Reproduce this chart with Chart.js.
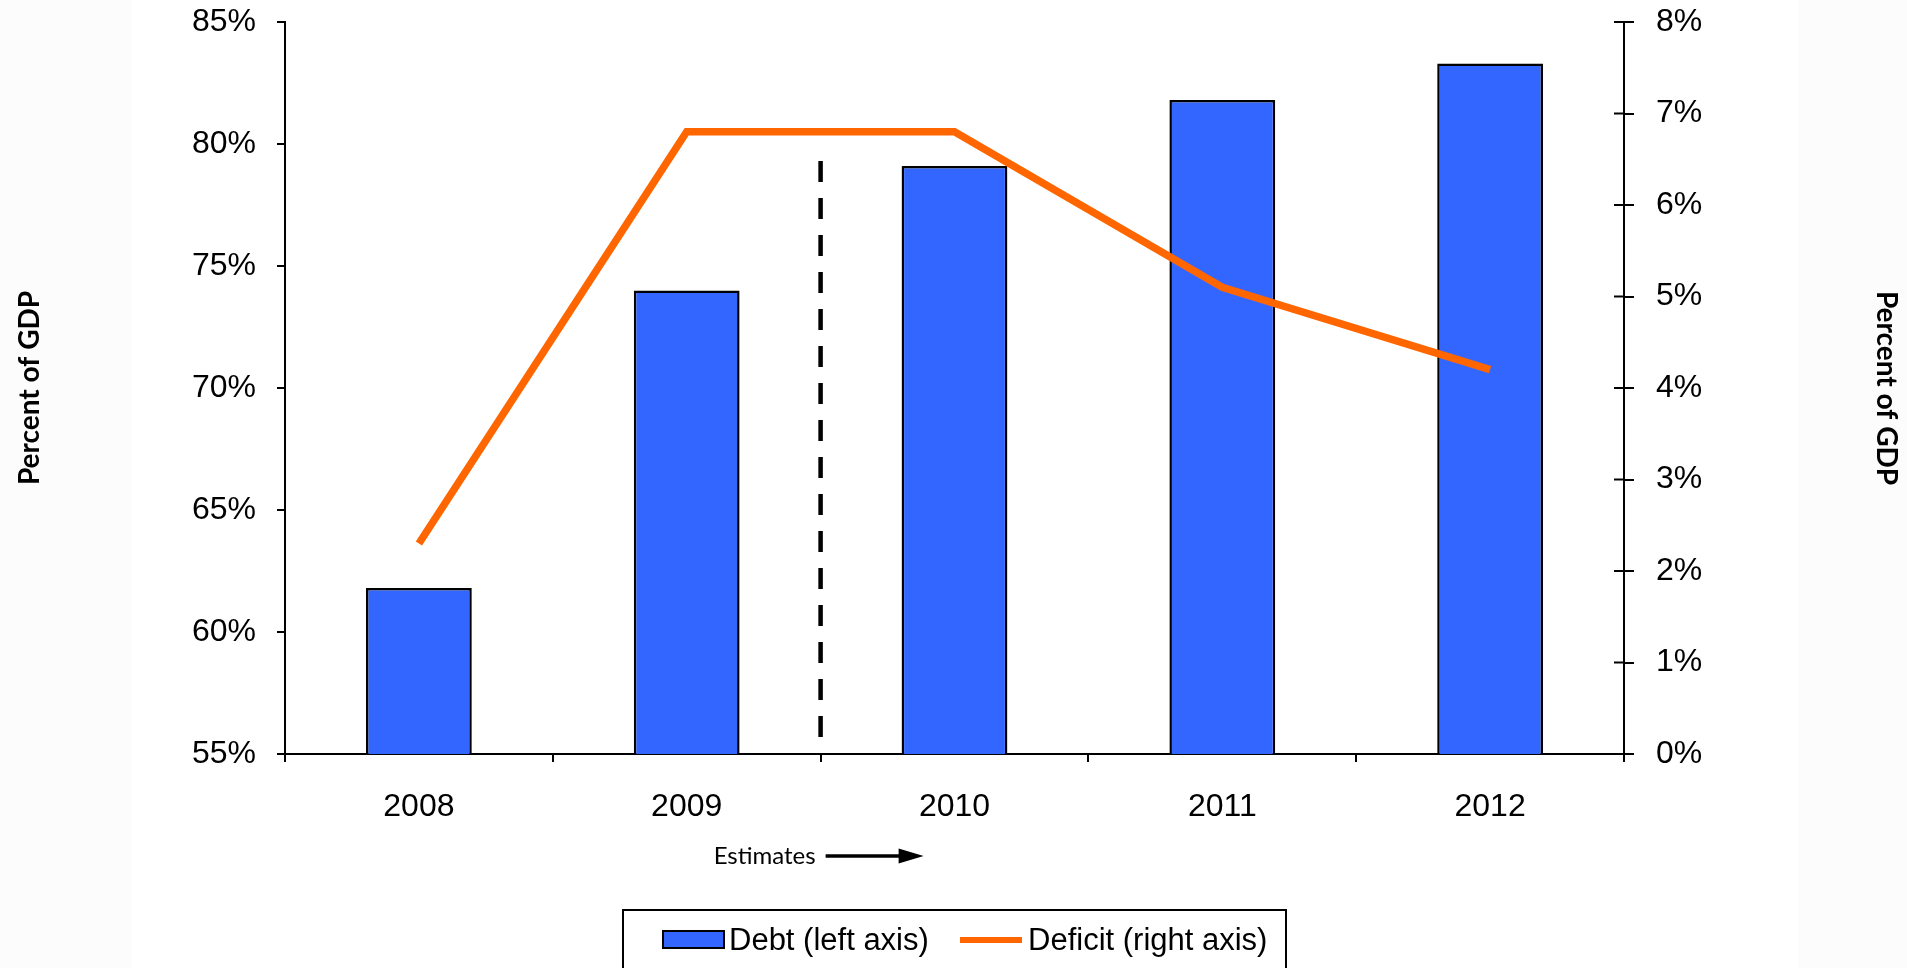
<!DOCTYPE html>
<html>
<head>
<meta charset="utf-8">
<title>Debt and Deficit, Percent of GDP</title>
<script src="https://cdn.jsdelivr.net/npm/chart.js@4.4.1/dist/chart.umd.min.js"></script>
<style>
  html, body { margin: 0; padding: 0; background: #fff; }
  #wrap { position: relative; width: 1907px; height: 968px; }
</style>
</head>
<body>
<div id="wrap"><canvas id="debtchart"></canvas></div>
<script>
const years = ['2008', '2009', '2010', '2011', '2012'];
const debt = [61.8, 74.0, 79.1, 81.8, 83.3];   // % of GDP, left axis
const deficit = [2.3, 6.8, 6.8, 5.1, 4.2];     // % of GDP, right axis
const debtTicks = [55, 60, 65, 70, 75, 80, 85];
const deficitTicks = [0, 1, 2, 3, 4, 5, 6, 7, 8];
const firstEstimate = '2010';
const dividerTop = 79.3;   // where the dashed divider stops, on the debt axis

const BLUE = '#3366ff';
const ORANGE = '#ff6600';
const tickFont = { family: '"Liberation Sans", Arial, sans-serif', size: 32 };
const titleFont = { family: 'Lato, "Open Sans", sans-serif', size: 28, weight: 'bold' };

// background, dashed divider, estimates arrow, crossing ticks and the boxed legend
const extras = {
  id: 'extras',
  beforeDraw(chart) {
    const { ctx, width, height } = chart;
    ctx.save();
    ctx.fillStyle = '#fcfcfc';
    ctx.fillRect(0, 0, 132, height);
    ctx.fillRect(1798, 0, width - 1798, height);
    ctx.restore();
  },
  beforeDatasetsDraw(chart) {
    const { ctx, scales } = chart;
    const i = years.indexOf(firstEstimate);
    const x = (scales.x.getPixelForValue(i - 1) + scales.x.getPixelForValue(i)) / 2;
    ctx.save();
    ctx.strokeStyle = '#000';
    ctx.lineWidth = 4.5;
    ctx.setLineDash([21, 16]);
    ctx.lineDashOffset = -8;
    ctx.beginPath();
    ctx.moveTo(x, scales.y.getPixelForValue(dividerTop) - 8);
    ctx.lineTo(x, scales.y.bottom);
    ctx.stroke();
    ctx.restore();
  },
  afterDraw(chart) {
    const { ctx, scales } = chart;
    ctx.save();

    // right axis ticks also reach into the plot
    const r = scales.y1;
    ctx.strokeStyle = '#000';
    ctx.lineWidth = 2;
    r.ticks.forEach((t, k) => {
      const y = r.getPixelForTick(k);
      ctx.beginPath();
      ctx.moveTo(r.left - 10, y);
      ctx.lineTo(r.left, y);
      ctx.stroke();
    });

    // "Estimates" with arrow, starting at the divider
    const i = years.indexOf(firstEstimate);
    const bx = (scales.x.getPixelForValue(i - 1) + scales.x.getPixelForValue(i)) / 2;
    const ay = 856;
    ctx.fillStyle = '#000';
    ctx.font = '24px Lato, "Open Sans", sans-serif';
    ctx.textAlign = 'right';
    ctx.textBaseline = 'middle';
    ctx.fillText('Estimates', bx - 5, ay);
    ctx.lineWidth = 3.5;
    ctx.beginPath();
    ctx.moveTo(bx + 5, ay);
    ctx.lineTo(bx + 82, ay);
    ctx.stroke();
    ctx.beginPath();
    ctx.moveTo(bx + 103, ay);
    ctx.lineTo(bx + 78, ay - 7.5);
    ctx.lineTo(bx + 78, ay + 7.5);
    ctx.closePath();
    ctx.fill();

    // legend
    const ds = chart.data.datasets;
    const bars = ds.find(d => d.yAxisID === 'y');
    const line = ds.find(d => d.yAxisID === 'y1');
    ctx.lineWidth = 2;
    ctx.strokeStyle = '#000';
    ctx.strokeRect(623, 910, 663, 80);
    ctx.font = '31px "Liberation Sans", Arial, sans-serif';
    ctx.textAlign = 'left';
    ctx.fillStyle = bars.backgroundColor;
    ctx.fillRect(663, 931, 61, 17);
    ctx.lineWidth = 2;
    ctx.strokeRect(663, 931, 61, 17);
    ctx.fillStyle = '#000';
    ctx.fillText(bars.label, 729, 941);
    ctx.strokeStyle = line.borderColor;
    ctx.lineWidth = 6;
    ctx.beginPath();
    ctx.moveTo(960, 940);
    ctx.lineTo(1022, 940);
    ctx.stroke();
    ctx.fillText(line.label, 1028, 941);
    ctx.restore();
  }
};

const ctx = document.getElementById('debtchart').getContext('2d');
const debtchart = new Chart(ctx, {
  type: 'bar',
  data: {
    labels: years,
    datasets: [
      {
        type: 'line',
        label: 'Deficit (right axis)',
        data: deficit,
        yAxisID: 'y1',
        borderColor: ORANGE,
        backgroundColor: ORANGE,
        borderWidth: 7.5,
        borderJoinStyle: 'miter',
        pointRadius: 0,
        tension: 0,
        order: 0
      },
      {
        label: 'Debt (left axis)',
        data: debt,
        yAxisID: 'y',
        backgroundColor: BLUE,
        borderColor: '#000',
        borderWidth: 2.5,
        borderSkipped: false,
        categoryPercentage: 1,
        barPercentage: 0.395,
        order: 1
      }
    ]
  },
  options: {
    responsive: true,
    maintainAspectRatio: false,
    animation: false,
    layout: { padding: { top: 22, left: 0, right: 0, bottom: 0 } },
    plugins: {
      legend: { display: false },
      tooltip: { enabled: false }
    },
    scales: {
      x: {
        afterFit(s) { s.height = 214; s.paddingLeft = 0; s.paddingRight = 0; },
        grid: { offset: true, drawOnChartArea: false, color: '#000', lineWidth: 2, tickLength: 8 },
        border: { color: '#000', width: 2 },
        ticks: { color: '#000', font: tickFont, padding: 26, maxRotation: 0 }
      },
      y: {
        position: 'left',
        min: debtTicks[0],
        max: debtTicks[debtTicks.length - 1],
        afterFit(s) { s.width = 285; s.paddingTop = 0; s.paddingBottom = 0; },
        afterBuildTicks(s) { s.ticks = debtTicks.map(v => ({ value: v })); },
        grid: { drawOnChartArea: false, color: '#000', lineWidth: 2, tickLength: 8 },
        border: { color: '#000', width: 2 },
        ticks: { color: '#000', font: tickFont, padding: 21, callback: v => v + '%' },
        title: { display: true, text: 'Percent of GDP', color: '#000', font: titleFont, padding: { top: 13, bottom: 0 } }
      },
      y1: {
        position: 'right',
        min: deficitTicks[0],
        max: deficitTicks[deficitTicks.length - 1],
        afterFit(s) { s.width = 283; s.paddingTop = 0; s.paddingBottom = 0; },
        afterBuildTicks(s) { s.ticks = deficitTicks.map(v => ({ value: v })); },
        grid: { drawOnChartArea: false, color: '#000', lineWidth: 2, tickLength: 10 },
        border: { color: '#000', width: 2 },
        ticks: { color: '#000', font: tickFont, padding: 22, callback: v => v + '%' },
        title: { display: true, text: 'Percent of GDP', color: '#000', font: titleFont, padding: { top: 4, bottom: 0 } }
      }
    }
  },
  plugins: [extras]
});
</script>
</body>
</html>
